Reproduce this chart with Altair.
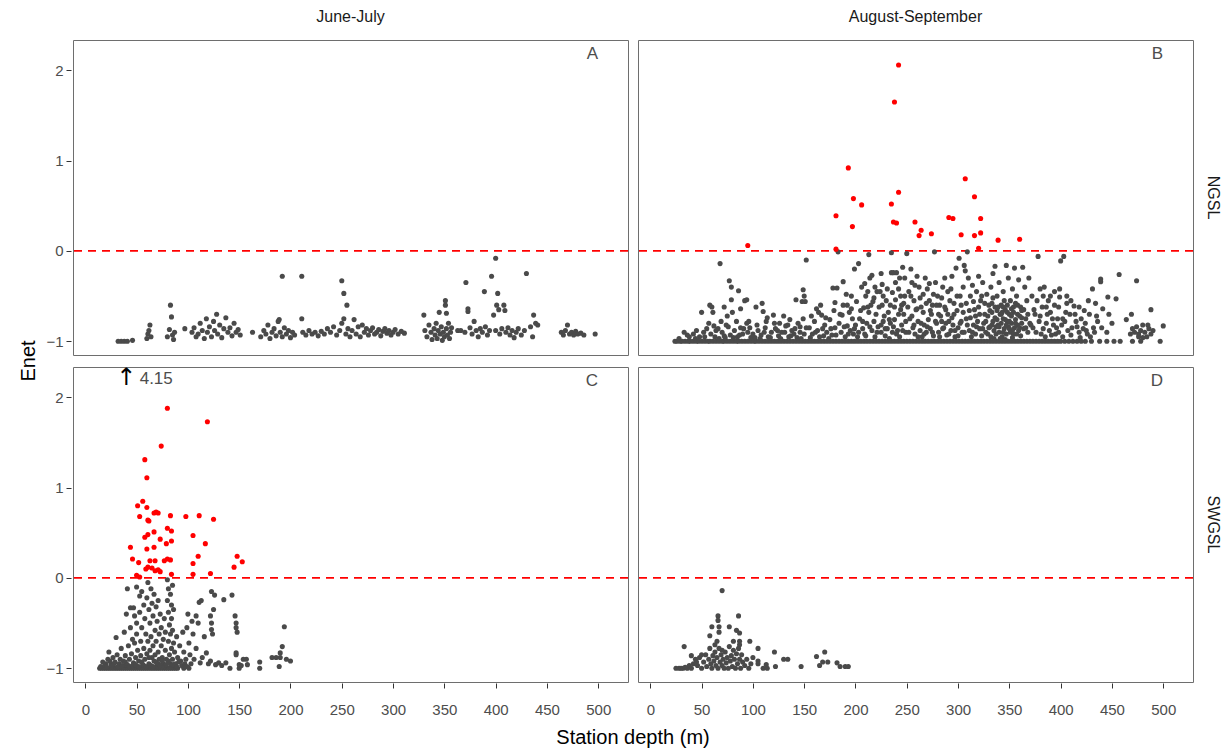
import altair as alt
import pandas as pd

SEASONS = ["June-July", "August-September"]
REGIONS = ["NGSL", "SWGSL"]
PANEL_LETTERS = ["A", "B", "C", "D"]
X_TICKS = [0, 25, 50, 75, 100, 125, 150, 175, 200, 225, 250, 275, 300, 325, 350, 375, 400, 425, 450, 475, 500]
Y_TICKS = [-1, 0, 1, 2]

# ---------------- Panel A : June-July / NGSL ----------------
A_x = [32, 35, 38, 41, 46, 60, 61, 62, 63, 64, 80, 82, 83, 84, 85, 86, 87, 97,
       104, 106, 108, 110, 112, 114, 116, 118, 119, 121, 123, 125, 126, 128, 129, 131, 133, 135, 137, 139, 141, 143, 145, 147, 149, 151,
       163, 171, 174, 176, 178, 180, 182, 184, 186, 188, 189, 190, 192, 194, 196, 198, 200, 202, 204,
       192, 211, 211, 212, 215, 218, 221, 224, 227, 230, 233, 236, 239, 242, 245, 248, 250, 252, 255, 252, 250, 254, 256, 258,
       260, 262, 264, 266, 268, 270, 272, 274, 276, 278, 280, 282, 284, 286, 288, 290, 292, 294, 296, 298, 300, 302, 305, 308, 311,
       330, 331, 333, 335, 337, 338, 340, 341, 342, 343, 344, 345, 346, 347, 348, 349, 350, 351, 351, 352, 352, 353, 354, 355, 356, 357,
       363, 366, 371, 370, 373, 373, 375, 377, 379, 381, 383, 385, 387, 389, 390, 392, 394, 396, 398, 400, 401, 402, 403, 400, 404, 406,
       408, 409, 410, 412, 414, 416, 418, 420, 422, 425, 428, 430, 434, 437, 439, 441, 436,
       464, 466, 468, 470, 472, 474, 476, 478, 480, 483, 486, 497]
A_y = [-1, -1, -1, -1, -0.99, -0.97, -0.92, -0.88, -0.82, -0.95, -0.95, -0.87, -0.6, -0.73, -0.93, -0.98, -0.9, -0.86,
       -0.9, -0.85, -0.95, -0.92, -0.8, -0.88, -0.97, -0.75, -0.9, -0.84, -0.95, -0.78, -0.88, -0.7, -0.92, -0.82, -0.96, -0.86, -0.74, -0.9, -0.85, -0.94, -0.8, -0.9, -0.87, -0.93,
       -0.9, -0.95, -0.88, -0.92, -0.82, -0.97, -0.9, -0.86, -0.94, -0.78, -0.76, -0.9, -0.95, -0.85, -0.92, -0.88, -0.96, -0.9, -0.93,
       -0.28, -0.28, -0.75, -0.9, -0.93, -0.88, -0.92, -0.9, -0.94, -0.89, -0.92, -0.86, -0.9, -0.84, -0.93, -0.88, -0.33, -0.47, -0.6, -0.75, -0.8, -0.92, -0.86, -0.95,
       -0.88, -0.76, -0.92, -0.84, -0.95, -0.82, -0.9, -0.86, -0.93, -0.88, -0.85, -0.92, -0.9, -0.87, -0.94, -0.89, -0.86, -0.91, -0.88, -0.93, -0.9, -0.87, -0.92, -0.89, -0.91,
       -0.71, -0.88, -0.95, -0.82, -0.9, -0.98, -0.86, -0.93, -0.8, -0.97, -0.88, -0.68, -0.92, -0.84, -0.99, -0.9, -0.95, -0.55, -0.6, -0.69, -0.86, -0.93, -0.8, -0.97, -0.9, -0.85,
       -0.88, -0.88, -0.35, -0.9, -0.64, -0.67, -0.85, -0.92, -0.78, -0.88, -0.95, -0.86, -0.9, -0.45, -0.84, -0.93, -0.88, -0.28, -0.71, -0.08, -0.6, -0.47, -0.65, -0.88, -0.92, -0.86,
       -0.6, -0.66, -0.9, -0.85, -0.93, -0.88, -0.96, -0.9, -0.86, -0.93, -0.88, -0.25, -0.84, -0.71, -0.8, -0.82, -0.95,
       -0.9, -0.93, -0.88, -0.82, -0.92, -0.9, -0.93, -0.89, -0.92, -0.91, -0.93, -0.92]

# ---------------- Panel B : August-September / NGSL ----------------
B_base_x = [24, 26, 29, 31, 34, 37, 39, 42, 45, 47, 50, 53, 56, 58, 61, 64, 67, 70, 72, 75, 78, 81, 84, 86, 89, 92, 95, 98,
            101, 103, 106, 109, 112, 115, 118, 121, 124, 127, 130, 133, 136, 139, 142, 145, 148, 151, 154, 157, 160, 163, 166,
            169, 172, 175, 178, 181, 184, 187, 190, 193, 196, 199, 202, 205, 208, 211, 214, 217, 220, 223, 226, 229, 232, 235,
            238, 241, 244, 247, 250, 253, 256, 259, 262, 265, 268, 271, 274, 277, 280, 283, 286, 289, 292, 295, 298, 301, 304,
            307, 310, 313, 316, 319, 322, 325, 328, 331, 334, 337, 340, 343, 346, 349, 352, 355, 358, 361, 364, 367, 370, 373,
            376, 379, 382, 385, 388, 391, 394, 397, 400, 404, 408, 412, 416, 420, 424, 430, 438, 445, 452, 458, 470, 478, 497]
B_cloud_x = [33, 38, 42, 45, 48, 50, 52, 55, 57, 58, 60, 61, 62,
             68, 77, 79, 86, 79, 72, 75, 80, 88, 92, 94, 94, 66, 70, 74, 78, 82, 85, 88, 90, 95, 98, 63, 67, 72, 84, 97,
             103, 109, 110, 120, 130, 142, 149, 150, 148, 151, 152, 149, 105, 108, 112, 115, 118, 122, 125, 128, 132, 135, 138, 140, 144, 146, 147, 113, 126, 136, 102,
             166, 162, 167, 178, 182, 188, 180, 188, 192, 187, 199, 203, 183, 155, 158, 160, 163, 165, 170, 172, 175, 177, 180, 184, 186, 190, 192, 195, 197, 198, 174, 168, 156, 194, 196, 200,
             206, 208, 210, 212, 214, 213, 216, 218, 221, 224, 226, 225, 235, 237, 240, 235, 246, 250, 239, 242, 244, 248, 247, 238, 230, 232, 228, 220, 215, 204, 207, 209, 211, 216, 219, 222, 225, 227, 229, 231, 234, 236, 238, 241, 243, 245, 247, 249, 202, 218, 233, 244, 226, 213,
             252, 255, 257, 260, 262, 264, 266, 268, 270, 272, 274, 277, 278, 280, 282, 285, 287, 288, 290, 292, 294, 296, 298, 299, 301, 253, 256, 258, 261, 263, 265, 267, 269, 271, 273, 276, 279, 281, 283, 286, 289, 291, 293, 295, 297, 300, 259, 275, 284, 254,
             303, 305, 306, 307, 309, 310, 312, 314, 316, 318, 320, 322, 324, 326, 328, 330, 332, 334, 336, 338, 340, 342, 344, 347, 349, 351, 353, 355, 357, 359, 361, 363, 365, 367, 369,
             302, 304, 308, 311, 313, 315, 317, 319, 321, 323, 325, 327, 329, 331, 332, 333, 334, 335, 336, 337, 338, 339, 340, 341, 342, 343, 344, 345, 346, 347, 348, 349, 350, 351, 352, 353, 354, 355, 356, 357, 358, 359, 360, 361, 362, 364, 366, 368, 370,
             333, 339, 345, 348, 352, 356, 343, 337, 341, 347, 353, 335, 346, 350, 358, 362, 330, 344, 354,
             372, 375, 378, 380, 382, 384, 386, 388, 390, 392, 394, 396, 399, 399, 400, 403, 406, 406, 409, 411, 413, 415, 418, 420, 422, 424, 426, 428, 431, 432, 434, 436, 439, 439, 441,
             373, 376, 379, 381, 383, 385, 387, 389, 391, 393, 395, 397, 398, 401, 402, 404, 407, 410, 416, 419, 425, 429, 433,
             446, 447, 454, 457, 464, 469, 474, 488, 500, 470, 472, 474, 476, 478, 480, 482, 484, 486, 488, 490, 476, 480, 468, 485]
B_cloud_y = [-0.9, -0.95, -0.92, -0.88, -0.95, -0.68, -0.9, -0.86, -0.8, -0.6, -0.62, -0.68, -0.83,
             -0.14, -0.33, -0.4, -0.44, -0.54, -0.62, -0.72, -0.68, -0.64, -0.55, -0.54, -0.8, -0.86, -0.9, -0.82, -0.93, -0.88, -0.95, -0.85, -0.92, -0.9, -0.96, -0.95, -0.97, -0.94, -0.78, -0.85,
             -0.62, -0.58, -0.67, -0.71, -0.72, -0.54, -0.43, -0.5, -0.56, -0.56, -0.1, -0.75, -0.88, -0.93, -0.85, -0.95, -0.9, -0.86, -0.94, -0.9, -0.83, -0.95, -0.88, -0.92, -0.8, -0.9, -0.97, -0.78, -0.8, -0.76, -0.96,
             -0.6, -0.64, -0.71, -0.41, -0.41, -0.34, -0.57, -0.6, -0.6, -0.71, -0.2, -0.14, -0.01, -0.85, -0.92, -0.78, -0.88, -0.95, -0.82, -0.9, -0.76, -0.93, -0.85, -0.8, -0.9, -0.95, -0.83, -0.88, -0.75, -0.92, -0.97, -0.86, -0.96, -0.68, -0.5, -0.82,
             -0.4, -0.63, -0.5, -0.45, -0.3, -0.04, -0.27, -0.52, -0.45, -0.45, -0.37, -0.25, -0.24, -0.24, -0.24, -0.02, -0.18, -0.03, -0.35, -0.42, -0.5, -0.3, -0.58, -0.62, -0.55, -0.68, -0.72, -0.7, -0.6, -0.75, -0.86, -0.92, -0.8, -0.88, -0.95, -0.84, -0.9, -0.78, -0.94, -0.86, -0.8, -0.9, -0.76, -0.88, -0.95, -0.82, -0.7, -0.9, -0.95, -0.78, -0.97, -0.65, -0.6, -0.68,
             -0.45, -0.35, -0.55, -0.28, -0.4, -0.62, -0.48, -0.3, -0.42, -0.55, -0.7, -0.01, -0.35, -0.5, -0.6, -0.4, -0.3, -0.65, -0.45, -0.55, -0.28, -0.7, -0.19, -0.5, -0.08, -0.75, -0.85, -0.92, -0.78, -0.88, -0.95, -0.82, -0.9, -0.76, -0.86, -0.94, -0.8, -0.9, -0.72, -0.85, -0.93, -0.78, -0.88, -0.82, -0.95, -0.85, -0.65, -0.6, -0.78, -0.2,
             -0.6, -0.4, -0.16, -0.22, -0.01, -0.3, -0.5, -0.38, -0.65, -0.45, -0.28, -0.55, -0.35, -0.7, -0.48, -0.6, -0.4, -0.25, -0.17, -0.5, -0.35, -0.6, -0.45, -0.16, -0.3, -0.55, -0.42, -0.19, -0.5, -0.32, -0.62, -0.18, -0.4, -0.55, -0.3,
             -0.8, -0.9, -0.75, -0.88, -0.95, -0.82, -0.92, -0.78, -0.86, -0.94, -0.8, -0.9, -0.72, -0.84, -0.95, -0.68, -0.78, -0.88, -0.74, -0.92, -0.66, -0.82, -0.9, -0.7, -0.8, -0.95, -0.75, -0.86, -0.65, -0.92, -0.78, -0.84, -0.7, -0.9, -0.8, -0.96, -0.68, -0.85, -0.76, -0.92, -0.82, -0.88, -0.72, -0.94, -0.8, -0.86, -0.75, -0.9, -0.8,
             -0.58, -0.62, -0.55, -0.6, -0.64, -0.58, -0.68, -0.84, -0.97, -0.82, -0.88, -0.97, -0.98, -0.86, -0.7, -0.66, -0.85, -0.9, -0.92,
             -0.5, -0.7, -0.06, -0.42, -0.62, -0.4, -0.8, -0.55, -0.5, -0.75, -0.6, -0.85, -0.42, -0.51, -0.11, -0.06, -0.5, -0.58, -0.7, -0.85, -0.61, -0.78, -0.9, -0.75, -0.86, -0.8, -0.92, -0.7, -0.42, -0.85, -0.58, -0.78, -0.31, -0.34, -0.64,
             -0.85, -0.9, -0.78, -0.92, -0.86, -0.95, -0.7, -0.88, -0.93, -0.82, -0.92, -0.75, -0.9, -0.82, -0.95, -0.78, -0.88, -0.93, -0.84, -0.96, -0.88, -0.95, -0.9,
             -0.51, -0.7, -0.53, -0.26, -0.76, -0.7, -0.33, -0.65, -0.83, -0.86, -0.9, -0.84, -0.92, -0.88, -0.82, -0.9, -0.95, -0.86, -0.92, -0.88, -0.95, -0.96, -0.92, -0.82]
B_more_x = [152, 157, 161, 164, 169, 171, 176, 179, 181, 185, 189, 191, 193, 196, 199, 201, 203, 205, 207, 209, 210, 212, 214, 217, 219,
            221, 223, 225, 227, 229, 231, 233, 234, 236, 237, 239, 240, 242, 243, 245, 246, 248, 249, 251, 252, 254, 255, 257, 258, 260,
            261, 263, 264, 266, 267, 269, 270, 272, 273, 275, 276, 278, 279, 281, 282, 284, 285, 287, 288, 290, 291, 293, 294, 296, 297,
            299, 300, 302, 303, 305, 306, 308, 309, 311, 312, 314, 315, 317, 318, 320, 321, 323, 324, 326, 327, 329, 331, 333, 334, 336,
            338, 340, 342, 344, 346, 348, 350, 352, 354, 356, 358, 360, 362, 364, 366, 368, 371, 374, 377, 380, 383, 386, 390, 394, 398,
            402, 405, 410, 414, 418, 423, 427, 435, 440, 445, 450,
            28, 36, 44, 53, 59, 64, 69, 73, 76, 81, 87, 91, 96, 100, 104, 107, 111, 114, 117, 121, 124, 127, 131, 134, 137, 141, 143, 146, 150]
B_more_y = [-0.85, -0.72, -0.9, -0.68, -0.94, -0.74, -0.86, -0.66, -0.93, -0.7, -0.84, -0.48, -0.92, -0.64, -0.86, -0.56, -0.9, -0.66, -0.78, -0.36, -0.94, -0.62, -0.84, -0.56, -0.4,
            -0.9, -0.62, -0.82, -0.5, -0.86, -0.42, -0.76, -0.6, -0.46, -0.84, -0.54, -0.92, -0.7, -0.3, -0.6, -0.88, -0.5, -0.78, -0.62, -0.9, -0.5, -0.72, -0.82, -0.38, -0.64,
            -0.95, -0.52, -0.8, -0.68, -0.92, -0.58, -0.84, -0.36, -0.66, -0.9, -0.48, -0.78, -0.6, -0.7, -0.95, -0.52, -0.86, -0.62, -0.8, -0.7, -0.92, -0.42, -0.74, -0.58, -0.88,
            -0.66, -0.94, -0.5, -0.78, -0.68, -0.9, -0.58, -0.82, -0.66, -0.74, -0.9, -0.56, -0.72, -0.84, -0.62, -0.7, -0.5, -0.86, -0.58, -0.78, -0.92, -0.66, -0.82, -0.52, -0.62,
            -0.76, -0.84, -0.7, -0.62, -0.76, -0.68, -0.78, -0.72, -0.62, -0.8, -0.6, -0.85, -0.74, -0.65, -0.85, -0.7, -0.82, -0.65, -0.55, -0.72, -0.5, -0.62, -0.68, -0.45, -0.62,
            -0.75, -0.68, -0.55, -0.7, -0.62, -0.66, -0.55, -0.72, -0.85, -0.9, -0.8,
            -0.97, -0.93, -0.97, -0.95, -0.92, -0.88, -0.78, -0.96, -0.84, -0.96, -0.93, -0.86, -0.78, -0.92, -0.82, -0.97, -0.9, -0.74, -0.96, -0.8, -0.88, -0.97, -0.9, -0.82, -0.94, -0.86, -0.96, -0.84, -0.92]
B_red_x = [242, 238, 193, 198, 242, 307, 316, 95, 181, 181, 206, 197, 235, 237, 240, 258, 264, 262, 274, 291, 295, 322, 322, 316, 303, 320, 339, 360]
B_red_y = [2.06, 1.65, 0.92, 0.58, 0.65, 0.8, 0.6, 0.06, 0.39, 0.02, 0.51, 0.27, 0.52, 0.32, 0.31, 0.32, 0.23, 0.17, 0.19, 0.37, 0.36, 0.36, 0.2, 0.17, 0.18, 0.03, 0.12, 0.13]

# ---------------- Panel C : June-July / SWGSL ----------------
C_red_x = [80, 119, 74, 58, 60, 56, 51, 60, 53, 61, 67, 69, 71, 83, 98, 111, 125, 62, 80, 84, 67, 58, 61, 73, 84, 79, 105, 44, 60, 67, 117,
           46, 52, 63, 68, 77, 80, 83, 110, 105, 59, 61, 65, 68, 71, 73, 50, 53, 84, 105, 122, 145, 148, 153]
C_red_y = [1.88, 1.73, 1.46, 1.31, 1.11, 0.85, 0.8, 0.78, 0.68, 0.64, 0.72, 0.73, 0.72, 0.69, 0.68, 0.69, 0.65, 0.63, 0.55, 0.52, 0.51, 0.45, 0.48, 0.43, 0.41, 0.38, 0.47, 0.34, 0.32, 0.34, 0.38,
           0.21, 0.17, 0.19, 0.19, 0.19, 0.21, 0.2, 0.24, 0.16, 0.1, 0.12, 0.11, 0.08, 0.09, 0.07, 0.03, 0.01, 0.04, 0.04, 0.05, 0.12, 0.24, 0.18]
C_base_x = [14, 16, 18, 20, 22, 24, 26, 28, 30, 32, 34, 36, 38, 40, 42, 44, 46, 48, 50, 52, 54, 56, 58, 60, 62, 64, 66, 68, 70, 72, 74, 76, 78,
            80, 82, 84, 86, 88, 90, 96, 101, 141, 150, 170]
C_gray_x = [20, 22, 23, 25, 27, 29, 30, 31, 33, 34, 35, 37, 38, 39, 40, 40, 41, 42, 43, 44, 44, 45, 46, 47, 47, 48, 48, 49, 50, 50, 50, 51, 52, 53, 53,
            54, 54, 55, 55, 56, 57, 57, 58, 58, 59, 60, 60, 61, 61, 62, 62, 63, 63, 64, 64, 65, 65, 66, 66, 67, 67, 68, 68, 69, 69, 70, 70, 71, 71, 72, 72,
            73, 74, 74, 75, 76, 76, 77, 78, 78, 79, 80, 80, 81, 81, 81, 82, 82, 83, 83, 83, 84, 84, 84, 85, 85, 85, 86, 86, 87, 88, 89, 90, 92, 93, 95, 96,
            98, 99, 100, 101, 102, 103, 104, 105, 106, 108, 108, 110, 111, 112, 113, 114, 116, 118, 120, 122, 122, 123, 123, 123, 124, 125, 126, 127, 130,
            133, 135, 137, 143, 146, 147, 147, 148, 147, 147, 150, 152, 154, 157, 158, 170, 182, 186, 190, 190, 192, 194, 196, 200, 189,
            15, 17, 19, 21, 24, 26, 28, 32, 36, 39, 41, 43, 46, 49, 52, 55, 57, 59, 62, 64, 66, 69, 71, 73, 75, 77, 79, 81, 86, 89, 91, 94, 97, 99]
C_gray_y = [-0.95, -0.9, -0.82, -0.96, -0.88, -0.93, -0.66, -0.85, -0.95, -0.9, -0.78, -0.92, -0.6, -0.86, -0.97, -0.4, -0.12, -0.75, -0.9, -0.33, -0.55, -0.84, -0.68, -0.33, -0.94, -0.42, -0.72, -0.88, -0.1, -0.5, -0.62, -0.8, -0.92, -0.2, -0.38,
            -0.7, -0.86, -0.15, -0.55, -0.96, -0.3, -0.78, -0.45, -0.9, -0.62, -0.22, -0.84, -0.05, -0.7, -0.35, -0.95, -0.5, -0.8, -0.12, -0.65, -0.88, -0.28, -0.42, -0.75, -0.92, -0.18, -0.58, -0.85, -0.32, -0.7, -0.97, -0.48, -0.82, -0.25, -0.62, -0.9,
            -0.4, -0.75, -0.55, -0.88, -0.68, -0.95, -0.45, -0.8, -0.6, -0.9, -0.02, -0.25, -0.12, -0.38, -0.7, -0.52, -0.85, -0.18, -0.62, -0.95, -0.3, -0.45, -0.78, -0.08, -0.58, -0.9, -0.35, -0.72, -0.82, -0.95, -0.65, -0.88, -0.75, -0.92, -0.6, -0.82,
            -0.9, -0.55, -0.4, -0.72, -0.85, -0.95, -0.48, -0.62, -0.9, -0.42, -0.78, -0.5, -0.27, -0.94, -0.25, -0.88, -0.65, -0.83, -0.95, -0.42, -0.92, -0.15, -0.5, -0.57, -0.62, -0.35, -0.19, -0.96, -0.94,
            -0.97, -0.24, -0.94, -0.19, -0.42, -0.5, -0.55, -0.6, -0.85, -0.83, -0.96, -0.97, -0.9, -0.9, -0.96, -0.93, -0.88, -0.88, -0.88, -0.83, -0.76, -0.54, -0.9, -0.92, -0.98,
            -0.98, -0.93, -0.97, -0.99, -0.92, -0.97, -0.95, -0.98, -0.97, -0.93, -0.96, -0.98, -0.97, -0.96, -0.98, -0.93, -0.97, -0.98, -0.88, -0.97, -0.98, -0.93, -0.95, -0.97, -0.92, -0.98, -0.96, -0.92, -0.96, -0.98, -0.93, -0.97, -0.95, -0.98]

# ---------------- Panel D : August-September / SWGSL ----------------
D_x = [70, 66, 66, 86, 60, 67, 77, 67, 58, 84, 87, 81, 87, 97, 65, 63, 87, 33, 105, 121, 70, 100, 105, 105, 110, 113, 114, 122, 130, 134, 147,
       162, 168, 170, 173, 165, 182, 185, 190, 193,
       25, 28, 30, 32, 34, 36, 38, 40, 42, 44, 46, 48, 50, 52, 54, 55, 57, 58, 59, 60, 61, 62, 63, 64, 65, 66, 67, 68, 69, 70, 71, 72, 73, 74,
       75, 76, 77, 78, 79, 80, 81, 82, 83, 84, 85, 86, 87, 88, 89, 90, 92, 94, 96, 98, 40, 50, 45]
D_y = [-0.14, -0.42, -0.47, -0.42, -0.54, -0.54, -0.54, -0.6, -0.64, -0.58, -0.61, -0.7, -0.7, -0.7, -0.7, -0.74, -0.74, -0.76, -0.78, -0.82, -0.8, -0.88, -0.92, -0.95, -1.0, -0.96, -1.0, -0.98, -0.9, -0.9, -0.98,
       -0.87, -0.93, -0.82, -0.93, -0.97, -0.94, -0.98, -0.98, -0.98,
       -1, -1, -1, -1, -0.99, -1, -0.97, -1, -0.95, -0.9, -0.97, -0.88, -1, -0.93, -0.85, -0.98, -0.9, -0.78, -0.95, -1, -0.86, -0.92, -0.82, -0.97, -0.88, -1, -0.78, -0.93, -0.85, -0.97, -0.9, -1, -0.82, -0.94,
       -0.88, -1, -0.76, -0.92, -0.86, -0.98, -0.8, -0.9, -1, -0.84, -0.95, -0.78, -0.9, -1, -0.85, -0.93, -0.97, -0.9, -1, -0.95, -0.86, -0.85, -0.93]

# ---------------- assemble ----------------
recs = []


def add(season, region, xs, ys):
    for xv, yv in zip(xs, ys):
        recs.append({"season": season, "region": region, "depth": xv, "enet": yv, "kind": "pt", "label": ""})


add(SEASONS[0], REGIONS[0], A_x, A_y)
add(SEASONS[1], REGIONS[0], B_base_x, [-1.0] * len(B_base_x))
add(SEASONS[1], REGIONS[0], B_cloud_x, B_cloud_y)
add(SEASONS[1], REGIONS[0], B_more_x, B_more_y)
add(SEASONS[1], REGIONS[0], B_red_x, B_red_y)
add(SEASONS[0], REGIONS[1], C_base_x, [-1.0] * len(C_base_x))
add(SEASONS[0], REGIONS[1], C_gray_x, C_gray_y)
add(SEASONS[0], REGIONS[1], C_red_x, C_red_y)
add(SEASONS[1], REGIONS[1], D_x, D_y)

panel_keys = [(SEASONS[0], REGIONS[0]), (SEASONS[1], REGIONS[0]), (SEASONS[0], REGIONS[1]), (SEASONS[1], REGIONS[1])]
for (s, r), lab in zip(panel_keys, PANEL_LETTERS):
    recs.append({"season": s, "region": r, "depth": 0, "enet": 0, "kind": "letter", "label": lab})

recs.append({"season": SEASONS[0], "region": REGIONS[1], "depth": 40, "enet": 2.21, "kind": "arrow", "label": "↑"})
recs.append({"season": SEASONS[0], "region": REGIONS[1], "depth": 53, "enet": 2.2, "kind": "annot", "label": "4.15"})

df = pd.DataFrame(recs)

FONT = "Liberation Sans"
W, H = 555, 315

xscale = alt.Scale(domain=[-12, 529], nice=False, zero=False)
yscale = alt.Scale(domain=[-1.152, 2.336], nice=False, zero=False)

xaxis = alt.Axis(values=X_TICKS, labelExpr="datum.value % 50 == 0 ? datum.label : ''",
                 title=None, labelFlush=False, labelOverlap=False, labelPadding=14)
yaxis = alt.Axis(values=Y_TICKS, format="d", title=None, labelPadding=3)

points = alt.Chart().mark_circle(size=26, opacity=1).encode(
    x=alt.X("depth:Q", scale=xscale, axis=xaxis),
    y=alt.Y("enet:Q", scale=yscale, axis=yaxis),
    color=alt.condition("datum.enet > 0", alt.value("#ff0000"), alt.value("#4a4a4a")),
).transform_filter("datum.kind == 'pt'")

zero_rule = alt.Chart().mark_rule(color="#ff0000", strokeDash=[8, 6], strokeWidth=1.8).encode(
    y=alt.datum(0)
).transform_filter("datum.kind == 'letter'")

letters = alt.Chart().mark_text(align="right", baseline="middle", fontSize=17, font=FONT, color="#4d4d4d").encode(
    x=alt.value(W - 30), y=alt.value(14), text="label:N"
).transform_filter("datum.kind == 'letter'")

arrow = alt.Chart().mark_text(align="center", baseline="middle", fontSize=24, font="DejaVu Sans", color="#000000").encode(
    x=alt.X("depth:Q", scale=xscale), y=alt.Y("enet:Q", scale=yscale), text="label:N"
).transform_filter("datum.kind == 'arrow'")

annot = alt.Chart().mark_text(align="left", baseline="middle", fontSize=17, font=FONT, color="#4d4d4d").encode(
    x=alt.X("depth:Q", scale=xscale), y=alt.Y("enet:Q", scale=yscale), text="label:N"
).transform_filter("datum.kind == 'annot'")

layered = alt.layer(zero_rule, points, letters, arrow, annot, data=df).properties(width=W, height=H)

chart = layered.facet(
    column=alt.Column("season:N", sort=SEASONS, header=alt.Header(
        title="Station depth (m)", titleOrient="bottom", titleFontSize=20, titleFont=FONT, titleColor="#000000",
        titleFontWeight="normal", titlePadding=1,
        labelOrient="top", labelFontSize=16, labelFont=FONT, labelColor="#1a1a1a", labelPadding=14)),
    row=alt.Row("region:N", sort=REGIONS, header=alt.Header(
        title="Enet", titleOrient="left", titleFontSize=20, titleFont=FONT, titleColor="#000000",
        titleFontWeight="normal", titlePadding=-4,
        labelOrient="right", labelAngle=90, labelFontSize=16, labelFont=FONT, labelColor="#1a1a1a",
        labelPadding=10)),
    spacing={"row": 9, "column": 6},
).properties(
    padding={"left": 19, "top": 9, "right": 6, "bottom": 4}
).configure_view(
    stroke="#6e6e6e", strokeWidth=1
).configure_axis(
    grid=False, domain=False, tickColor="#333333", tickSize=5,
    labelFont=FONT, labelFontSize=15, labelColor="#4d4d4d"
)

chart.save("out.html", embed_options={"renderer": "svg", "actions": False})
